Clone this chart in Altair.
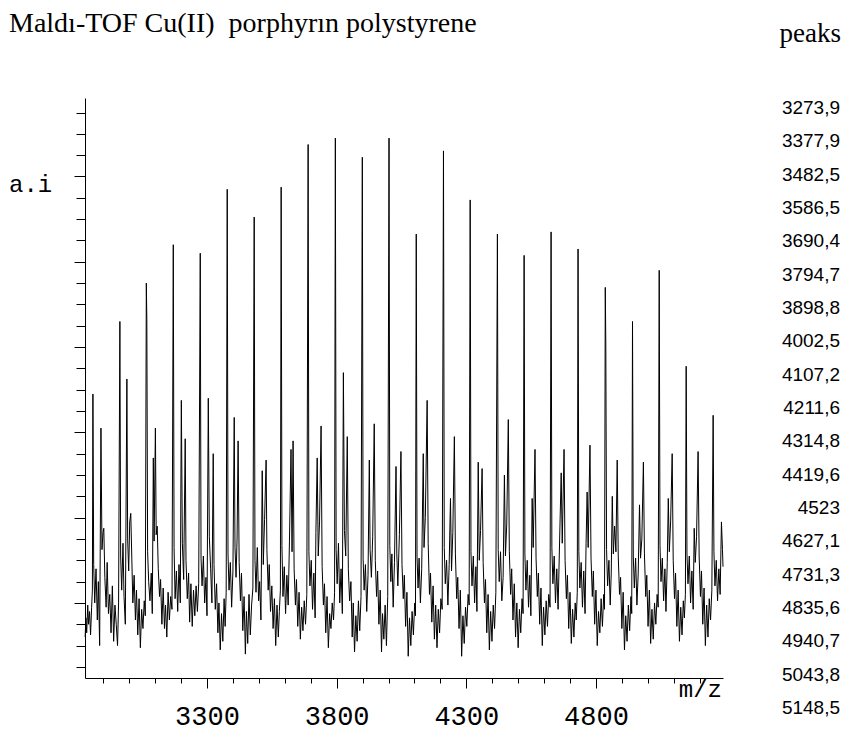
import altair as alt
import pandas as pd

# ---------------- text ----------------
title_text = "Maldı-TOF Cu(II)\u00a0 porphyrın polystyrene"
peaks_header = "peaks"
y_label = "a.i"
x_label = "m/z"

# ---------------- peak list (right column) ----------------
peak_values = [3273.9, 3377.9, 3482.5, 3586.5, 3690.4, 3794.7, 3898.8, 4002.5,
               4107.2, 4211.6, 4314.8, 4419.6, 4523, 4627.1, 4731.3, 4835.6,
               4940.7, 5043.8, 5148.5]

# ---------------- axis ticks ----------------
x_minor_ticks = list(range(2900, 5300, 100))
x_major_ticks = [3300, 3800, 4300, 4800]
y_ticks = list(range(0, 27))
y_major_ticks = [3, 7, 11, 15, 19, 23]

# ---------------- spectrum ----------------
spectrum_mz = [
    2830, 2833, 2836, 2840, 2843, 2847, 2851, 2855, 2858,
    2860, 2863, 2867, 2872, 2877, 2881, 2886, 2891, 2895, 2899, 2902, 2906, 2911, 2915, 2920, 2925, 2930, 2935, 2940, 2945, 2950, 2955, 2959,
    2964, 2967, 2971, 2976, 2980, 2985, 2991, 2994, 2998, 3002, 3006, 3010, 3014, 3019, 3024, 3028, 3033, 3038, 3043, 3048, 3053, 3058, 3062,
    3066, 3068, 3071, 3075, 3080, 3085, 3089, 3093, 3096, 3101, 3104, 3108, 3112, 3117, 3121, 3126, 3131, 3136, 3140, 3145, 3150, 3155, 3160, 3165,
    3170, 3173, 3177, 3182, 3187, 3192, 3197, 3201, 3205, 3210, 3216, 3219, 3224, 3229, 3233, 3238, 3243, 3248, 3253, 3258, 3263, 3268,
    3274, 3277, 3281, 3286, 3291, 3296, 3300, 3305, 3309, 3314, 3319, 3324, 3327, 3332, 3337, 3342, 3346, 3351, 3356, 3361, 3366, 3370, 3374,
    3378, 3381, 3385, 3390, 3395, 3400, 3405, 3408, 3412, 3416, 3420, 3424, 3429, 3433, 3438, 3443, 3448, 3452, 3457, 3462, 3467, 3472, 3477,
    3482, 3485, 3489, 3494, 3499, 3503, 3508, 3513, 3517, 3522, 3528, 3531, 3536, 3540, 3545, 3550, 3555, 3560, 3565, 3570, 3575, 3579, 3583,
    3586, 3589, 3593, 3598, 3603, 3608, 3613, 3618, 3624, 3628, 3632, 3636, 3641, 3645, 3650, 3655, 3660, 3665, 3670, 3675, 3680, 3685,
    3690, 3693, 3697, 3702, 3707, 3712, 3717, 3720, 3725, 3729, 3734, 3740, 3744, 3749, 3753, 3758, 3763, 3768, 3773, 3778, 3783, 3788, 3792,
    3795, 3798, 3802, 3807, 3812, 3817, 3822, 3826, 3830, 3835, 3841, 3845, 3850, 3855, 3860, 3864, 3869, 3874, 3879, 3884, 3889, 3894,
    3899, 3902, 3906, 3911, 3916, 3921, 3926, 3929, 3934, 3939, 3945, 3949, 3954, 3958, 3963, 3968, 3973, 3977, 3982, 3987, 3992, 3997,
    4002, 4005, 4009, 4013, 4018, 4023, 4029, 4032, 4036, 4042, 4048, 4052, 4057, 4061, 4066, 4071, 4076, 4081, 4086, 4091, 4096, 4101, 4104,
    4107, 4110, 4114, 4118, 4123, 4128, 4134, 4137, 4142, 4149, 4153, 4158, 4162, 4167, 4172, 4177, 4182, 4187, 4192, 4197, 4202, 4207,
    4212, 4215, 4219, 4224, 4229, 4234, 4239, 4243, 4248, 4254, 4258, 4263, 4267, 4272, 4277, 4282, 4287, 4292, 4297, 4302, 4307, 4311,
    4315, 4318, 4322, 4327, 4332, 4337, 4341, 4346, 4350, 4355, 4361, 4365, 4370, 4374, 4379, 4384, 4389, 4394, 4399, 4404, 4409, 4414,
    4420, 4423, 4427, 4432, 4437, 4442, 4447, 4451, 4456, 4462, 4466, 4471, 4475, 4480, 4485, 4490, 4495, 4500, 4505, 4510, 4515, 4519,
    4523, 4526, 4530, 4535, 4540, 4545, 4549, 4554, 4558, 4565, 4569, 4574, 4578, 4583, 4588, 4593, 4598, 4603, 4608, 4613, 4618, 4623,
    4627, 4630, 4634, 4639, 4644, 4649, 4654, 4660, 4666, 4670, 4677, 4681, 4686, 4690, 4695, 4700, 4705, 4710, 4715, 4720, 4724, 4728,
    4731, 4734, 4738, 4743, 4748, 4753, 4758, 4762, 4766, 4770, 4777, 4781, 4786, 4790, 4795, 4800, 4805, 4810, 4815, 4820, 4825, 4830, 4833,
    4836, 4838, 4841, 4845, 4850, 4855, 4859, 4863, 4867, 4872, 4877, 4882, 4886, 4891, 4895, 4900, 4905, 4910, 4915, 4920, 4925, 4930, 4935, 4938,
    4941, 4944, 4948, 4953, 4958, 4963, 4968, 4972, 4977, 4983, 4987, 4992, 4996, 5001, 5006, 5011, 5016, 5021, 5026, 5031, 5036, 5040,
    5044, 5047, 5051, 5056, 5061, 5066, 5070, 5075, 5079, 5083, 5088, 5094, 5098, 5103, 5107, 5112, 5117, 5122, 5127, 5132, 5137, 5141, 5145,
    5148, 5151, 5155, 5160, 5165, 5170, 5175, 5179, 5183, 5188, 5194, 5198, 5203, 5207, 5212, 5217, 5222, 5227, 5232, 5237, 5242, 5247,
    5252, 5255, 5259, 5264, 5269, 5274, 5279, 5284, 5288, 5290,
]
spectrum_ai = [
    1.4, 2.3, 1.6, 2.9, 2.0, 2.6, 1.5, 2.8, 3.6,
    12.8, 4.8, 3.0, 4.6, 2.2, 4.0, 1.0, 11.2, 5.5, 6.3, 6.5, 4.2, 2.8, 4.9, 2.5, 3.4, 1.6, 3.8, 1.2, 2.9, 2.0, 1.0, 3.0,
    16.2, 5.2, 3.6, 5.8, 3.3, 2.0, 13.5, 6.0, 4.5, 6.8, 7.2, 5.1, 3.0, 4.3, 2.2, 3.6, 1.5, 3.2, 0.9, 2.7, 1.8, 3.1, 2.4,
    18.0, 16.3, 5.4, 4.0, 3.1, 4.4, 2.5, 9.8, 5.9, 11.2, 6.2, 6.6, 4.6, 3.3, 4.1, 2.0, 3.7, 1.8, 2.9, 1.4, 3.5, 2.2, 3.3, 2.7,
    19.8, 5.6, 3.2, 4.5, 2.6, 4.8, 3.0, 12.5, 5.8, 4.1, 10.7, 5.0, 3.2, 4.4, 2.1, 3.9, 1.9, 3.6, 2.4, 3.8, 2.6, 3.9,
    19.4, 5.1, 3.8, 5.2, 3.0, 4.2, 2.4, 12.6, 6.1, 4.6, 3.0, 10.0, 4.8, 2.7, 3.9, 1.6, 3.0, 0.8, 2.5, 1.2, 3.2, 1.9, 3.5,
    22.4, 5.3, 3.6, 4.9, 2.8, 4.5, 11.7, 5.6, 4.2, 6.0, 10.6, 4.9, 3.1, 4.4, 1.7, 3.3, 0.6, 2.6, 1.1, 3.4, 1.5, 2.9, 3.7,
    21.1, 5.0, 3.5, 5.6, 3.1, 4.0, 2.2, 9.2, 4.8, 6.9, 9.7, 5.5, 3.6, 4.8, 2.6, 3.8, 1.8, 3.2, 1.0, 2.9, 1.4, 2.6, 3.6,
    22.5, 5.7, 3.3, 4.7, 2.5, 4.3, 2.9, 5.9, 10.2, 5.4, 10.6, 4.6, 2.9, 4.1, 1.9, 3.5, 1.3, 2.8, 1.7, 3.1, 2.0, 3.4,
    24.5, 5.4, 3.8, 5.0, 2.7, 4.4, 2.3, 6.3, 9.8, 5.2, 6.8, 11.3, 4.7, 2.9, 3.9, 1.6, 3.3, 0.9, 2.5, 1.8, 3.0, 2.2, 3.5,
    24.8, 5.5, 3.9, 5.8, 3.0, 4.6, 2.5, 13.8, 6.4, 5.2, 10.8, 4.6, 3.1, 4.0, 1.4, 3.0, 0.7, 2.4, 1.2, 3.1, 1.7, 3.3,
    23.9, 5.1, 3.6, 4.8, 2.6, 4.3, 9.7, 5.5, 4.2, 6.1, 11.4, 5.0, 3.3, 4.5, 2.0, 3.6, 0.7, 2.5, 1.3, 2.9, 1.0, 3.3,
    24.8, 5.7, 4.0, 5.3, 2.8, 4.9, 9.4, 5.3, 3.8, 6.2, 10.1, 4.8, 3.2, 4.3, 1.9, 3.5, 0.5, 2.3, 1.0, 2.6, 1.5, 3.0, 2.4,
    20.3, 5.2, 3.7, 5.1, 3.0, 4.6, 10.0, 5.6, 7.0, 12.5, 5.8, 3.4, 4.4, 2.1, 3.8, 1.3, 2.9, 0.9, 2.7, 1.6, 3.2, 2.7,
    24.2, 5.6, 3.9, 5.0, 2.9, 4.8, 7.9, 4.5, 6.3, 10.8, 5.3, 3.2, 4.2, 1.8, 3.6, 0.5, 2.4, 1.1, 2.8, 1.9, 3.4, 2.9,
    21.9, 5.4, 3.8, 5.2, 3.0, 4.7, 2.6, 9.6, 5.0, 6.4, 9.3, 4.9, 3.0, 4.1, 1.6, 3.4, 0.8, 2.6, 1.2, 2.9, 1.8, 3.5,
    20.3, 5.5, 4.0, 5.4, 3.1, 4.2, 9.0, 5.2, 6.7, 11.6, 5.4, 3.4, 4.6, 2.2, 3.9, 1.4, 3.0, 0.9, 2.7, 1.6, 3.2, 2.5,
    19.3, 5.3, 3.6, 5.0, 2.8, 4.3, 2.4, 7.9, 5.6, 10.2, 5.1, 3.3, 4.4, 2.0, 3.7, 1.0, 2.8, 1.5, 3.1, 1.9, 3.4, 2.8,
    20.4, 5.6, 3.9, 5.2, 3.0, 4.6, 2.7, 6.0, 9.1, 5.8, 10.2, 5.0, 3.2, 4.3, 1.8, 3.5, 1.1, 2.7, 1.4, 3.0, 2.2, 3.5,
    19.6, 5.4, 3.7, 4.9, 2.8, 4.5, 2.5, 5.8, 8.2, 5.6, 10.4, 5.1, 3.3, 4.5, 2.0, 3.6, 1.0, 2.6, 1.6, 3.2, 1.9, 3.4, 2.7,
    17.8, 15.2, 5.5, 3.8, 5.0, 2.9, 4.4, 8.0, 5.3, 6.6, 5.4, 9.7, 5.2, 3.4, 4.2, 1.8, 3.5, 0.8, 2.4, 1.2, 2.9, 1.7, 3.3, 2.5,
    16.2, 5.2, 3.7, 5.1, 2.9, 4.4, 7.6, 5.1, 6.0, 9.6, 5.3, 3.3, 4.3, 1.9, 3.6, 1.1, 2.7, 1.3, 3.0, 2.0, 3.4, 2.8,
    18.6, 5.7, 4.0, 5.1, 3.1, 4.6, 2.6, 4.9, 7.9, 5.4, 6.8, 10.0, 5.0, 3.2, 4.4, 1.9, 3.6, 1.2, 2.8, 1.5, 3.1, 2.3, 3.4,
    14.1, 5.3, 3.9, 5.2, 3.0, 4.5, 2.7, 6.5, 4.9, 6.1, 10.1, 5.2, 3.3, 4.5, 2.0, 3.7, 1.0, 2.9, 1.4, 3.2, 2.2, 3.6,
    11.8, 5.4, 3.8, 5.0, 3.1, 4.6, 3.4, 6.8, 5.5, 4.7,
]

spec_df = pd.DataFrame({"mz": spectrum_mz, "ai": spectrum_ai})
peaks_df = pd.DataFrame({
    "idx": list(range(len(peak_values))),
    "label": [f"{v:g}".replace(".", ",") for v in peak_values],
})

x_scale = alt.Scale(domain=[2829.5, 5290], nice=False, zero=False)
y_scale = alt.Scale(domain=[-0.52, 26.68], nice=False, zero=False)

spectrum = alt.Chart(spec_df).mark_line(color="black", strokeWidth=1).encode(
    x=alt.X("mz:Q", scale=x_scale,
            axis=alt.Axis(orient="bottom", values=x_minor_ticks, tickSize=5, labels=False,
                          domainColor="black", domainWidth=1, tickColor="black", tickWidth=1,
                          grid=False, title=None)),
    y=alt.Y("ai:Q", scale=y_scale,
            axis=alt.Axis(orient="left", values=y_ticks, tickSize=9, labels=False,
                          domainColor="black", domainWidth=1, tickColor="black", tickWidth=1,
                          grid=False, title=None)),
)

major = alt.Chart(spec_df).mark_line(strokeOpacity=0).encode(
    x=alt.X("mz:Q", scale=x_scale,
            axis=alt.Axis(orient="bottom", values=x_major_ticks, tickSize=10, domain=False,
                          format="d", labelFont="Liberation Mono", labelFontSize=27,
                          labelColor="black", labelBaseline="alphabetic", labelPadding=36,
                          labelFlush=False, labelOverlap=False, tickColor="black", tickWidth=1,
                          grid=False, title=None)),
    y=alt.Y("ai:Q", scale=y_scale,
            axis=alt.Axis(orient="left", values=y_major_ticks, tickSize=11, domain=False,
                          labels=False, tickColor="black", tickWidth=1, grid=False, title=None)),
)

peaks_list = alt.Chart(peaks_df).mark_text(
    align="right", baseline="middle", font="Liberation Sans", fontSize=19, color="black"
).encode(
    x=alt.value(755),
    y=alt.Y("idx:Q", scale=alt.Scale(domain=[0, 18], range=[10, 610]), axis=None),
    text="label:N",
)


def text_mark(text, x, y, **kw):
    return alt.Chart(pd.DataFrame({"t": [text]})).mark_text(color="black", **kw).encode(
        x=alt.value(x), y=alt.value(y), text="t:N")


title_mark = text_mark(title_text, -76, -66, align="left", baseline="alphabetic",
                       font="Liberation Serif", fontSize=28)
peaks_head = text_mark(peaks_header, 756, -56, align="right", baseline="alphabetic",
                       font="Liberation Serif", fontSize=27)
ai_mark = text_mark(y_label, -76, 94, align="left", baseline="alphabetic",
                    font="Liberation Mono", fontSize=24)
mz_mark = text_mark(x_label, 637, 599, align="right", baseline="alphabetic",
                    font="Liberation Mono", fontSize=24)

chart = (
    alt.layer(spectrum, major, peaks_list, title_mark, peaks_head, ai_mark, mz_mark)
    .resolve_scale(y="independent")
    .resolve_axis(x="independent", y="independent")
    .properties(
        width=638, height=580,
        padding={"left": 77, "top": 90, "right": 120, "bottom": 55},
        autosize=alt.AutoSizeParams(type="none"),
        background="white",
    )
    .configure_view(stroke=None)
)

chart.save("out.html", embed_options={"renderer": "svg", "actions": False})
